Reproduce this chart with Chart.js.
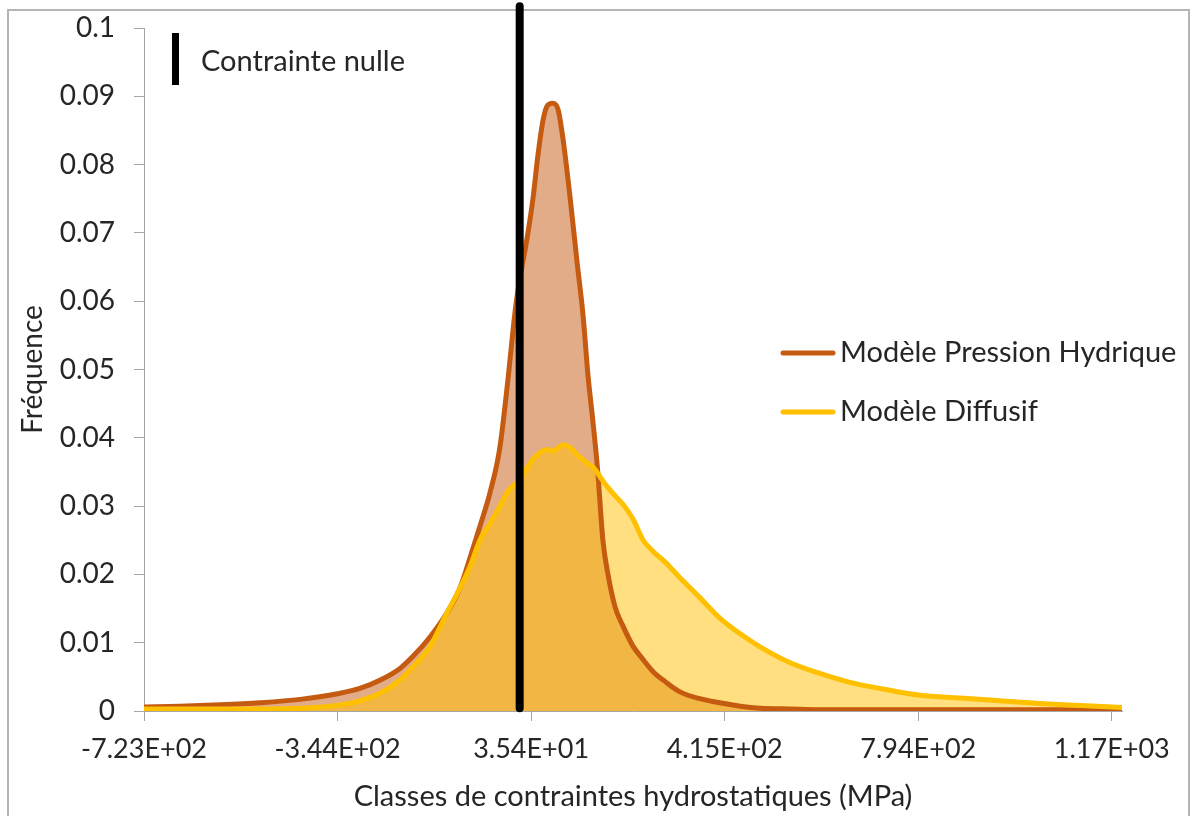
<!DOCTYPE html>
<html>
<head>
<meta charset="utf-8">
<script src="https://cdn.jsdelivr.net/npm/chart.js@4/dist/chart.umd.min.js"></script>
<style>
  body { margin: 0; background: #fff; }
  #myChart { display: block; }
</style>
</head>
<body>
<canvas id="myChart" width="1193" height="816"></canvas>
<script>
// classes de contraintes (MPa)
var classes = [-721, -652, -574, -496, -417, -339, -300, -261, -222, -196, -163, -130, -104, -84,
    -65, -45, -26, -10, 4, 13, 27, 39, 49, 59, 68, 78, 88, 98, 112, 125, 137, 147, 157, 166,
    176, 186, 200, 215, 235, 255, 274, 298, 327, 366, 405, 445, 484, 542, 601, 660, 719,
    797, 875, 954, 1032, 1111, 1193];

var pressionHydrique = [0.0006, 0.0007, 0.0009, 0.0012, 0.0017, 0.0026, 0.0033, 0.0045, 0.0062,
    0.0080, 0.0108, 0.0143, 0.0180, 0.0225, 0.0270, 0.0320, 0.0385, 0.0485, 0.0585, 0.0632,
    0.0690, 0.0750, 0.0815, 0.0866, 0.0887, 0.0890, 0.0881, 0.0837, 0.0750, 0.0660, 0.0580,
    0.0490, 0.0420, 0.0350, 0.0250, 0.0200, 0.0152, 0.0125, 0.0095, 0.0075, 0.0058, 0.0043,
    0.0028, 0.0018, 0.0012, 0.0007, 0.0004, 0.0003, 0.0002, 0.0002, 0.0002, 0.0002, 0.0002,
    0.0002, 0.0002, 0.0002, 0.0002];

var diffusif = [0.0003, 0.0003, 0.0003, 0.0003, 0.0004, 0.0009, 0.0015, 0.0026, 0.0045,
    0.0065, 0.0094, 0.0143, 0.0180, 0.0212, 0.0250, 0.0275, 0.0300, 0.0322, 0.0332, 0.0339,
    0.0355, 0.0369, 0.0376, 0.0381, 0.0383, 0.0380, 0.0385, 0.0390, 0.0386, 0.0376, 0.0368,
    0.0362, 0.0357, 0.0348, 0.0337, 0.0327, 0.0315, 0.0303, 0.0281, 0.0250, 0.0234, 0.0218,
    0.0195, 0.0166, 0.0136, 0.0113, 0.0094, 0.0071, 0.0055, 0.0042, 0.0033, 0.0023, 0.0019,
    0.0015, 0.0011, 0.0008, 0.0005];

// trait "contrainte nulle"
var contrainteNulleX = 13;
var contrainteNulleY = [0.0004, 0.1032];

var xTickValues = [-723, -343.8, 35.4, 414.6, 793.8, 1173];
var xTickLabels = ['-7.23E+02', '-3.44E+02', '3.54E+01', '4.15E+02', '7.94E+02', '1.17E+03'];
var yTickLabels = ['0', '0.01', '0.02', '0.03', '0.04', '0.05', '0.06', '0.07', '0.08', '0.09', '0.1'];

var FONT = 'Lato';
var axisGrey = '#a6a6a6';

function toPoints(xs, ys) {
    var pts = [];
    xs.forEach(function(x, i) {
        pts.push({x: x, y: ys[i]});
    });
    return pts;
}

// fond blanc + cadre gris + légendes dessinées à la main
var decor = {
    id: 'decor',
    beforeDraw: function(chart) {
        var c = chart.ctx;
        c.save();
        c.fillStyle = '#fff';
        c.fillRect(0, 0, chart.width, chart.height);
        c.strokeStyle = '#b4b4b4';
        c.lineWidth = 2;
        c.strokeRect(8, 10, 1181, 830);
        c.restore();
    },
    afterDraw: function(chart) {
        var c = chart.ctx;
        var ds = chart.data.datasets;
        c.save();
        c.font = '29px ' + FONT;
        c.textBaseline = 'middle';
        c.fillStyle = '#000';
        c.fillRect(172, 33, 7, 52);
        c.fillStyle = '#262626';
        c.fillText(ds[2].label, 201, 62);

        [[ds[1], 353], [ds[0], 412]].forEach(function(item) {
            c.strokeStyle = item[0].borderColor;
            c.lineWidth = 5;
            c.lineCap = 'round';
            c.beginPath();
            c.moveTo(783, item[1]);
            c.lineTo(833, item[1]);
            c.stroke();
            c.fillStyle = '#262626';
            c.fillText(item[0].label, 840, item[1]);
        });
        c.restore();
    }
};

var ctx = document.getElementById('myChart').getContext('2d');
var chart = new Chart(ctx, {
    type: 'line',
    data: {
        datasets: [{
            label: 'Modèle Diffusif',
            data: toPoints(classes, diffusif),
            borderColor: '#FFC000',
            backgroundColor: 'rgba(255, 192, 0, 0.5)',
            borderWidth: 5,
            fill: 'origin',
            order: 1
        }, {
            label: 'Modèle Pression Hydrique',
            data: toPoints(classes, pressionHydrique),
            borderColor: '#C55A11',
            backgroundColor: 'rgba(197, 90, 17, 0.5)',
            borderWidth: 5,
            fill: 'origin',
            order: 2
        }, {
            label: 'Contrainte nulle',
            data: contrainteNulleY.map(function(y) { return {x: contrainteNulleX, y: y}; }),
            borderColor: '#000',
            borderWidth: 8,
            fill: false,
            clip: false,
            order: 0
        }]
    },
    options: {
        responsive: false,
        animation: false,
        devicePixelRatio: 1,
        layout: { padding: { top: 28, right: 71, left: 0, bottom: 0 } },
        elements: {
            point: { radius: 0 },
            line: { cubicInterpolationMode: 'monotone', borderCapStyle: 'round', borderJoinStyle: 'round' }
        },
        plugins: {
            legend: { display: false },
            tooltip: { enabled: false },
            filler: { drawTime: 'beforeDatasetsDraw' }
        },
        scales: {
            x: {
                type: 'linear',
                min: -723,
                max: 1193,
                afterFit: function(scale) { scale.height = 105; },
                afterBuildTicks: function(scale) {
                    scale.ticks = xTickValues.map(function(v) { return {value: v}; });
                },
                grid: { drawOnChartArea: false, tickLength: 10, color: axisGrey },
                border: { color: axisGrey, width: 1 },
                ticks: {
                    autoSkip: false,
                    maxRotation: 0,
                    padding: 12,
                    color: '#262626',
                    font: { family: FONT, size: 27 },
                    callback: function(v, i) { return xTickLabels[i]; }
                },
                title: {
                    display: true,
                    text: 'Classes de contraintes hydrostatiques (MPa)',
                    color: '#262626',
                    font: { family: FONT, size: 29 },
                    padding: { top: 0, bottom: 2 }
                }
            },
            y: {
                min: 0,
                max: 0.1,
                afterFit: function(scale) {
                    scale.width = 144;
                    scale.paddingTop = 0;
                    scale.paddingBottom = 0;
                },
                grid: { drawOnChartArea: false, tickLength: 10, color: axisGrey },
                border: { color: axisGrey, width: 1 },
                ticks: {
                    stepSize: 0.01,
                    padding: 19,
                    color: '#262626',
                    font: { family: FONT, size: 28 },
                    callback: function(v, i) { return yTickLabels[i]; }
                },
                title: {
                    display: true,
                    text: 'Fréquence',
                    color: '#262626',
                    font: { family: FONT, size: 28 },
                    padding: { top: 16, bottom: 0 }
                }
            }
        }
    },
    plugins: [decor]
});
</script>
</body>
</html>
